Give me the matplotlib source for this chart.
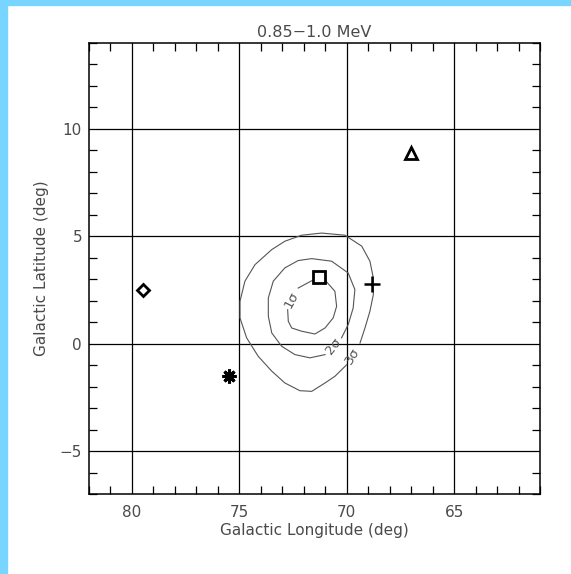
import matplotlib
matplotlib.use("Agg")
import matplotlib.pyplot as plt
from matplotlib.patches import Rectangle
from matplotlib.ticker import MultipleLocator

# ---- data (galactic lon / lat, degrees) ----
title = "0.85\u22121.0 MeV"

# contour polylines (open at the label gap)
sigma3_lon = [70.00, 70.55, 71.01, 71.63, 72.18, 72.88, 73.49, 74.12, 74.66, 74.97,
              74.97, 74.74, 74.27, 73.49, 72.88, 72.10, 71.17, 70.08, 69.30, 68.92,
              68.76, 68.76, 68.92, 69.15, 69.38]
sigma3_lat = [-0.98, -1.52, -1.83, -2.22, -2.19, -1.83, -1.28, -0.59, 0.27, 1.20,
              1.97, 2.91, 3.68, 4.38, 4.77, 5.05, 5.15, 5.05, 4.54, 3.84,
              3.06, 2.28, 1.51, 0.73, 0.03]

sigma2_lon = [71.01, 71.71, 72.41, 73.03, 73.49, 73.65, 73.65, 73.42, 72.88, 72.26,
              71.63, 70.70, 69.93, 69.62, 69.70, 69.93, 70.24]
sigma2_lat = [-0.51, -0.66, -0.51, -0.12, 0.50, 1.28, 2.13, 2.91, 3.53, 3.87,
              3.96, 3.84, 3.29, 2.52, 1.66, 0.89, 0.27]

sigma1_lon = [72.26, 71.63, 70.93, 70.55, 70.47, 70.63, 71.01, 71.48, 72.10, 72.56,
              72.72, 72.75]
sigma1_lat = [2.59, 2.93, 2.87, 2.44, 1.74, 1.20, 0.73, 0.45, 0.58, 0.73,
              1.04, 1.58]

# contour labels: text, lon, lat, rotation
label_text = ["1\u03c3", "2\u03c3", "3\u03c3"]
label_lon = [72.56, 70.64, 69.71]
label_lat = [2.05, -0.11, -0.57]
label_rot = [62, 52, 58]

# source markers
src_lon = [67.0, 79.5, 71.3, 68.8, 75.5]
src_lat = [8.9, 2.5, 3.1, 2.8, -1.5]
src_marker = ["^", "D", "s", "+", "asterisk"]

# ---- figure ----
W, H = 571, 574
fig = plt.figure(figsize=(W / 100, H / 100), dpi=100)
fig.patch.set_facecolor("white")
blue = "#77D5FF"
fig.add_artist(Rectangle((0, 0), 7 / W, 1, transform=fig.transFigure, color=blue, zorder=0))
fig.add_artist(Rectangle((0, 1 - 5 / H), 1, 5 / H, transform=fig.transFigure, color=blue, zorder=0))

ax = fig.add_axes([89 / W, 1 - 494 / H, 451 / W, 451 / H])
ax.set_xlim(82, 61)
ax.set_ylim(-7, 14)

txtc = "#4a4a4a"
ax.xaxis.set_major_locator(MultipleLocator(5))
ax.yaxis.set_major_locator(MultipleLocator(5))
ax.xaxis.set_minor_locator(MultipleLocator(1))
ax.yaxis.set_minor_locator(MultipleLocator(1))
ax.tick_params(which="both", direction="in", top=True, right=True, color="black")
ax.tick_params(which="major", length=0, width=1.0, labelsize=11, labelcolor=txtc)
ax.tick_params(axis="x", which="major", pad=8)
ax.tick_params(axis="y", which="major", pad=5)
ax.tick_params(which="minor", length=6, width=0.9)
for s in ax.spines.values():
    s.set_linewidth(1.1)
    s.set_color("black")
ax.grid(True, which="major", color="black", linewidth=0.9)
ax.set_axisbelow(True)

ax.set_title(title, fontsize=11.5, color=txtc, pad=4)
ax.set_xlabel("Galactic Longitude (deg)", fontsize=11, color=txtc, labelpad=2)
ax.set_ylabel("Galactic Latitude (deg)", fontsize=11, color=txtc, labelpad=8)

# contours
for lo, la in [(sigma3_lon, sigma3_lat), (sigma2_lon, sigma2_lat), (sigma1_lon, sigma1_lat)]:
    ax.plot(lo, la, color="#555555", linewidth=0.8, zorder=3)
for t, lo, la, r in zip(label_text, label_lon, label_lat, label_rot):
    ax.text(lo, la, t, rotation=r, ha="center", va="center", fontsize=9.5,
            color="#555555", zorder=4)

# markers
for lo, la, m in zip(src_lon, src_lat, src_marker):
    if m == "asterisk":
        ax.plot(lo, la, marker=(8, 2, 0), markersize=10, color="black",
                markeredgewidth=2.2, linestyle="none", zorder=5)
    elif m == "+":
        ax.plot(lo, la, marker="+", markersize=11, color="black",
                markeredgewidth=1.8, linestyle="none", zorder=5)
    else:
        size = {"^": 8, "D": 6, "s": 9}[m]
        ax.plot(lo, la, marker=m, markersize=size, markerfacecolor="white",
                markeredgecolor="black", markeredgewidth=2.0, linestyle="none", zorder=5)

fig.savefig("out.png", dpi=100)
